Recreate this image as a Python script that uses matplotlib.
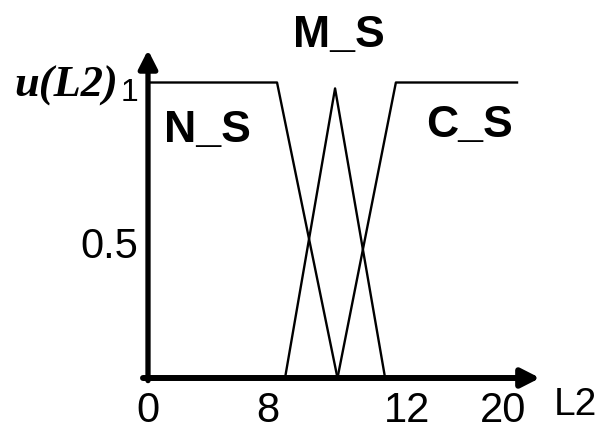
import numpy as np
import matplotlib
matplotlib.use("Agg")
import matplotlib.pyplot as plt
from matplotlib.transforms import ScaledTranslation

plt.rcParams['font.family'] = ['Liberation Sans', 'DejaVu Sans']

# membership function breakpoints (L2 value, u)
ns_x = [0, 8.26, 10.0]
ns_y = [1, 1, 0]
ms_x = [8.49, 9.93, 11.37]
ms_y = [0, 0.98, 0]
cs_x = [10.0, 11.68, 21.17]
cs_y = [0, 1, 1]

x_ticks = [0, 8, 12, 20]
x_tick_labels = ["0", "8", "12", "20"]
y_ticks = [0.5, 1]
y_tick_labels = ["0.5", "1"]
set_names = ["N_S", "M_S", "C_S"]

# the sketch's x axis is not linear, it is stretched between 8 and 12
knots_l2 = [-10, 0, 8, 12, 20, 30]
knots_px = [-150, 0, 120, 259, 355, 475]


def fwd(x):
    return np.interp(x, knots_l2, knots_px)


def inv(p):
    return np.interp(p, knots_px, knots_l2)


fig = plt.figure(figsize=(6.02, 4.34), dpi=100)
ax = fig.add_axes([148 / 602, 56 / 434, 392 / 602, 328 / 434])
ax.set_xscale('function', functions=(fwd, inv))
ax.set_xlim(0, inv(392))
ax.set_ylim(0, 328 / 295.5)

for xs, ys in [(ns_x, ns_y), (ms_x, ms_y), (cs_x, cs_y)]:
    ax.plot(xs, ys, color='k', lw=1.7, clip_on=False)

for s in ax.spines.values():
    s.set_visible(False)

# axes drawn as thick arrows
arrow = dict(arrowstyle='-|>,head_length=0.55,head_width=0.28', color='k',
             shrinkA=0, shrinkB=0, mutation_scale=20)
ax.annotate('', xy=(1, 0), xytext=(-5 / 392, 0), xycoords='axes fraction',
            arrowprops=dict(arrow, lw=4.3))
ax.annotate('', xy=(0, 1), xytext=(0, -0.008), xycoords='axes fraction',
            arrowprops=dict(arrow, lw=3.8))

ax.set_xticks(x_ticks, x_tick_labels)
ax.set_yticks(y_ticks, y_tick_labels)
ax.tick_params(axis='x', length=0, labelsize=30, pad=9)
ax.tick_params(axis='y', length=0, labelsize=30, pad=7)
ylabels = ax.get_yticklabels()
ylabels[1].set_fontsize(23)
for lbl, dy in zip(ylabels, [-12, -7]):
    lbl.set_transform(lbl.get_transform() + ScaledTranslation(0, dy / fig.dpi, fig.dpi_scale_trans))

name_pos = [(3.93, 0.836), (10.04, 1.16), (17.17, 0.853)]
for name, (tx, ty) in zip(set_names, name_pos):
    ax.text(tx, ty, name, fontsize=32, fontweight='bold', ha='center', va='center')

ax.annotate('L2', xy=(1, 0), xycoords='axes fraction', xytext=(35, -27),
            textcoords='offset pixels', ha='center', va='center', fontsize=28)
fig.text(66 / 602, 1 - 86 / 434, 'u(L2)', family='Liberation Serif', style='italic',
         fontweight='bold', fontsize=32, ha='center', va='center')

fig.savefig('out.png', dpi=100)
